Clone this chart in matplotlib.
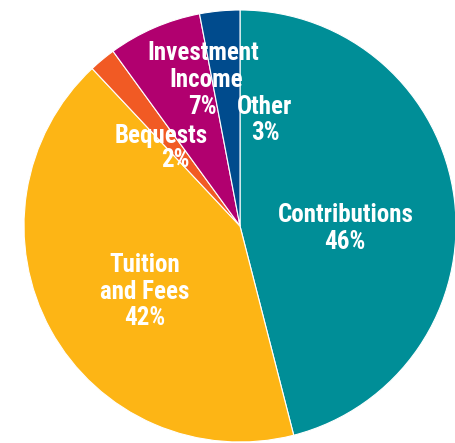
import matplotlib
matplotlib.use("Agg")
import matplotlib.pyplot as plt

categories = ["Contributions", "Tuition\nand Fees", "Bequests", "Investment\nIncome", "Other"]
values = [46, 42, 2, 7, 3]
colors = ["#008E97", "#FDB515", "#F15A24", "#B1006F", "#004B8D"]

W, H = 455, 443
fig = plt.figure(figsize=(W / 100, H / 100), dpi=100)
ax = fig.add_axes([0, 0, 1, 1])

cx, cy, r = 240, H - 226, 216
ax.pie(values, colors=colors, startangle=90, counterclock=False,
       center=(cx, cy), radius=r, frame=True,
       wedgeprops=dict(edgecolor="white", linewidth=0.8))
ax.set_xlim(0, W)
ax.set_ylim(0, H)
ax.set_aspect("equal")
ax.axis("off")

font = dict(color="white", fontsize=18, fontweight="bold",
            family=["Roboto Condensed", "DejaVu Sans"],
            ha="center", va="baseline")

# line centres (x, cap-centre y in image pixels) for each label's lines
line_pos = [
    [(346, 213), (345, 240)],
    [(145, 263), (145, 290), (145, 316)],
    [(161, 134), (175, 158)],
    [(203, 51), (206, 78), (202, 105)],
    [(265, 105), (265, 131)],
]
half_cap = 8.7
for c, v, lines_xy in zip(categories, values, line_pos):
    lines = c.split("\n") + [f"{v}%"]
    for txt, (x, y) in zip(lines, lines_xy):
        ax.text(x, H - (y + half_cap), txt, **font)

fig.savefig("out.png", dpi=100)
